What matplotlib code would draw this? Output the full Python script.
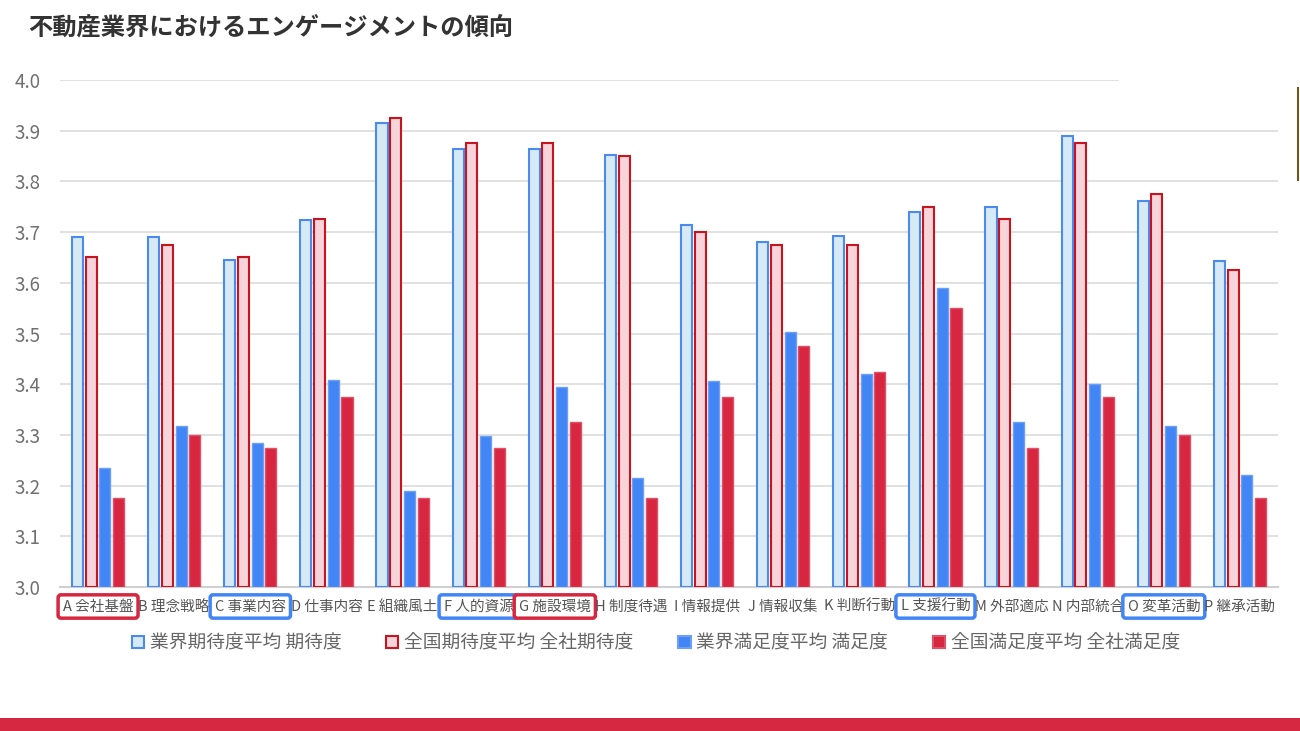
import matplotlib.pyplot as plt
from matplotlib.lines import Line2D
from matplotlib.patches import Rectangle
import numpy as np

plt.rcParams['font.family'] = ['Noto Sans CJK JP', 'DejaVu Sans']

# データ
categories = ['A 会社基盤', 'B 理念戦略', 'C 事業内容', 'D 仕事内容', 'E 組織風土', 'F 人的資源',
              'G 施設環境', 'H 制度待遇', 'I 情報提供', 'J 情報収集', 'K 判断行動', 'L 支援行動',
              'M 外部適応', 'N 内部統合', 'O 変革活動', 'P 継承活動']
gyokai_kitai = [3.69, 3.69, 3.645, 3.724, 3.915, 3.864, 3.864, 3.852,
                3.714, 3.68, 3.692, 3.74, 3.75, 3.89, 3.762, 3.643]
zenkoku_kitai = [3.65, 3.675, 3.65, 3.725, 3.925, 3.875, 3.875, 3.85,
                 3.70, 3.675, 3.675, 3.75, 3.725, 3.875, 3.775, 3.625]
gyokai_manzoku = [3.234, 3.317, 3.284, 3.408, 3.189, 3.297, 3.394, 3.215,
                  3.407, 3.503, 3.421, 3.59, 3.325, 3.40, 3.317, 3.22]
zenkoku_manzoku = [3.175, 3.30, 3.275, 3.375, 3.175, 3.275, 3.325, 3.175,
                   3.375, 3.475, 3.425, 3.55, 3.275, 3.375, 3.30, 3.175]
series_labels = ['業界期待度平均 期待度', '全国期待度平均 全社期待度',
                 '業界満足度平均 満足度', '全国満足度平均 全社満足度']
red_boxed = ['A 会社基盤', 'G 施設環境']
blue_boxed = ['C 事業内容', 'F 人的資源', 'L 支援行動', 'O 変革活動']

fig = plt.figure(figsize=(13, 7.31), dpi=100)
ax = fig.add_axes([60/1300, 1 - 587/731, (1278 - 60)/1300, (587 - 80)/731])

x = np.arange(len(categories))
step = 0.18
width = 0.145
styles = [
    dict(color='#d6eaf5', edgecolor='#4b8bf0', linewidth=1.5),
    dict(color='#f7d3da', edgecolor='#c8141e', linewidth=1.5),
    dict(color='#4285f4', edgecolor='#6d9ff6', linewidth=1),
    dict(color='#d7263f', edgecolor='#e05068', linewidth=1),
]
data = [gyokai_kitai, zenkoku_kitai, gyokai_manzoku, zenkoku_manzoku]
handles = []
for i, (vals, st) in enumerate(zip(data, styles)):
    off = (i - 1.5) * step
    ax.bar(x + off, np.array(vals) - 3.0, width, bottom=3.0, zorder=3, **st)
    handles.append(Rectangle((0, 0), 1, 1, facecolor=st['color'],
                             edgecolor=st['edgecolor'], linewidth=1.5))

ax.set_xlim(-0.5, 15.5)
ax.set_ylim(3.0, 4.0)
ax.set_yticks(np.arange(3.0, 4.01, 0.1))
ax.set_yticklabels([f'{v:.1f}' for v in np.arange(3.0, 4.01, 0.1)])

# グリッド
for v in np.arange(3.1, 3.95, 0.1):
    ax.axhline(v, color='#dcdcdc', linewidth=1.2, zorder=1)
ax.axhline(4.0, xmin=0, xmax=(1118 - 60)/(1278 - 60), color='#dcdcdc', linewidth=1.2, zorder=1)

for s in ['top', 'right', 'left']:
    ax.spines[s].set_visible(False)
ax.spines['bottom'].set_color('#d0d0d0')
ax.spines['bottom'].set_linewidth(1.5)

ax.tick_params(axis='y', length=0, pad=14, labelsize=13.5, labelcolor='#707070')
ax.tick_params(axis='x', length=0, pad=9, labelsize=10.5, labelcolor='#555555')
ax.set_xticks(x)
ax.set_xticklabels(categories)

for lbl in ax.get_xticklabels():
    t = lbl.get_text()
    if t in red_boxed:
        lbl.set_bbox(dict(boxstyle='round,pad=0.32,rounding_size=0.2', fc='white', ec='#d7263f', lw=2.5))
    elif t in blue_boxed:
        lbl.set_bbox(dict(boxstyle='round,pad=0.32,rounding_size=0.2', fc='white', ec='#4285f4', lw=2.5))

leg = fig.legend(handles, series_labels, loc='center', bbox_to_anchor=(0.5045, 1 - 643/731),
                 ncol=4, frameon=False, fontsize=13.5, handlelength=0.65, handleheight=0.65,
                 handletextpad=0.3, columnspacing=2.4)
for t in leg.get_texts():
    t.set_color('#666666')

fig.text(28/1300, 1 - 28/731, '不動産業界におけるエンゲージメントの傾向', fontsize=17.5,
         fontweight='bold', color='#333333', va='center', ha='left')

# 下部の帯
fig.add_artist(Rectangle((0, 0), 1, 13/731, transform=fig.transFigure,
                         facecolor='#d72841', edgecolor='none'))
fig.add_artist(Line2D([1298/1300, 1298/1300], [1 - 88/731, 1 - 180/731],
                      transform=fig.transFigure, color='#6b5a20', linewidth=1.5))

fig.savefig('out.png', dpi=100, facecolor='white')
